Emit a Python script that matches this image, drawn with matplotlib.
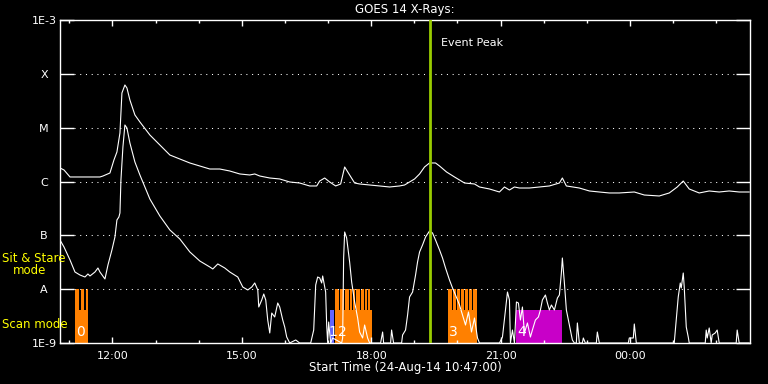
"""
GOES 14 X-ray flux plot with observing mode bars.
"""

import matplotlib
matplotlib.use('Agg')
import matplotlib.pyplot as plt
from matplotlib.ticker import FixedLocator, NullLocator
import numpy as np

START = 10 + 47 / 60.0  # 10:47, start of the plot
SPAN = 16.0             # hours shown

# long channel (1-8 A): hours after start, log10 flux
long_t = [0, 0.093, 0.232, 0.463, 0.926, 0.996, 1.158, 1.251, 1.320, 1.390,
          1.436, 1.505, 1.552, 1.621, 1.737, 1.853, 2.084, 2.316, 2.548, 2.779,
          3.011, 3.242, 3.474, 3.706, 3.937, 4.169, 4.400, 4.516, 4.632, 4.864,
          5.095, 5.327, 5.558, 5.790, 5.952, 6.022, 6.137, 6.253, 6.392, 6.508,
          6.601, 6.716, 6.832, 6.948, 7.180, 7.411, 7.643, 7.874, 7.990, 8.106,
          8.222, 8.338, 8.453, 8.569, 8.708, 8.801, 8.963, 9.148, 9.380, 9.611,
          9.727, 9.959, 10.190, 10.306, 10.422, 10.538, 10.654, 10.885, 11.117,
          11.348, 11.580, 11.649, 11.742, 12.043, 12.275, 12.506, 12.738, 12.970,
          13.317, 13.549, 13.896, 14.128, 14.313, 14.452, 14.591, 14.822, 15.054,
          15.286, 15.517, 15.749, 15.980]
long_logf = [-5.749, -5.786, -5.916, -5.916, -5.916, -5.898, -5.842, -5.600,
             -5.452, -5.099, -4.356, -4.207, -4.263, -4.486, -4.764, -4.894,
             -5.136, -5.322, -5.508, -5.582, -5.656, -5.712, -5.768, -5.768,
             -5.805, -5.860, -5.879, -5.860, -5.898, -5.935, -5.953, -6.009,
             -6.028, -6.083, -6.083, -5.991, -5.935, -6.009, -6.083, -6.046,
             -5.730, -5.879, -6.028, -6.046, -6.065, -6.083, -6.102, -6.083,
             -6.065, -6.009, -5.953, -5.860, -5.730, -5.656, -5.656, -5.712,
             -5.823, -5.916, -6.028, -6.046, -6.102, -6.139, -6.195, -6.102,
             -6.158, -6.102, -6.121, -6.121, -6.102, -6.083, -6.028, -5.935,
             -6.083, -6.121, -6.176, -6.195, -6.213, -6.213, -6.195, -6.251,
             -6.269, -6.213, -6.102, -5.991, -6.139, -6.213, -6.176, -6.195,
             -6.176, -6.195, -6.195]

# short channel (0.5-4 A)
short_t = [0, 0.093, 0.232, 0.347, 0.463, 0.579, 0.648, 0.695, 0.811, 0.880,
           0.926, 1.042, 1.112, 1.204, 1.274, 1.320, 1.366, 1.390, 1.413, 1.459,
           1.505, 1.552, 1.621, 1.737, 1.853, 2.084, 2.316, 2.548, 2.779, 3.011,
           3.242, 3.474, 3.543, 3.659, 3.821, 3.937, 4.122, 4.238, 4.354, 4.447,
           4.516, 4.586, 4.609, 4.678, 4.725, 4.771, 4.817, 4.864, 4.910, 4.979,
           5.049, 5.095, 5.165, 5.211, 5.257, 5.327, 5.466, 5.558, 5.813, 5.883,
           5.929, 5.975, 6.022, 6.068, 6.091, 6.160, 6.184, 6.207, 6.230, 6.276,
           6.323, 6.531, 6.554, 6.577, 6.601, 6.647, 6.716, 6.763, 6.832, 6.902,
           6.948, 7.017, 7.064, 7.133, 7.180, 7.434, 7.481, 7.504, 7.666, 7.689,
           7.735, 7.921, 7.944, 8.013, 8.060, 8.106, 8.176, 8.245, 8.291, 8.338,
           8.407, 8.477, 8.569, 8.639, 8.708, 8.801, 8.870, 8.940, 9.032, 9.102,
           9.171, 9.264, 9.333, 9.403, 9.472, 9.542, 9.611, 9.681, 9.727, 10.190,
           10.260, 10.330, 10.376, 10.422, 10.445, 10.492, 10.538, 10.584, 10.630,
           10.677, 10.723, 10.769, 10.839, 10.908, 10.954, 11.024, 11.093, 11.140,
           11.186, 11.256, 11.302, 11.348, 11.395, 11.464, 11.534, 11.580, 11.626,
           11.649, 11.696, 11.742, 11.788, 11.834, 11.881, 11.927, 11.973, 11.997,
           12.043, 12.112, 12.135, 12.182, 12.437, 12.460, 12.506, 13.178, 13.201,
           13.294, 13.317, 13.364, 14.243, 14.290, 14.336, 14.383, 14.406, 14.452,
           14.475, 14.522, 14.568, 14.591, 14.962, 14.985, 15.008, 15.054, 15.100,
           15.124, 15.193, 15.239, 15.286, 15.680, 15.703, 15.749, 15.980]
short_logf = [-7.087, -7.217, -7.458, -7.681, -7.737, -7.774, -7.718, -7.755,
              -7.681, -7.607, -7.681, -7.811, -7.551, -7.272, -7.031, -6.715,
              -6.659, -6.585, -5.972, -5.359, -4.950, -5.006, -5.285, -5.638,
              -5.879, -6.325, -6.641, -6.901, -7.068, -7.309, -7.477, -7.588,
              -7.625, -7.532, -7.607, -7.681, -7.774, -7.960, -8.015, -7.960,
              -7.885, -8.015, -8.331, -8.201, -8.090, -8.201, -8.573, -8.814,
              -8.443, -8.517, -8.257, -8.331, -8.573, -8.703, -8.889, -9.0,
              -8.944, -9.0, -9.0, -8.759, -7.923, -7.774, -7.792, -7.885,
              -7.755, -8.053, -8.666, -9.0, -8.610, -9.0, -8.907, -9.0,
              -8.907, -7.421, -6.938, -7.049, -7.495, -7.867, -8.238, -8.536,
              -8.796, -8.907, -8.666, -8.907, -9.0, -9.0, -8.796, -9.0,
              -9.0, -8.759, -9.0, -9.0, -8.851, -8.759, -8.480, -8.145,
              -8.053, -7.737, -7.495, -7.309, -7.179, -7.031, -6.919, -6.957,
              -7.087, -7.272, -7.421, -7.607, -7.830, -7.978, -8.108, -8.294,
              -8.480, -8.666, -8.424, -8.796, -8.536, -8.907, -9.0, -9.0,
              -8.889, -8.387, -8.053, -8.201, -9.0, -8.759, -9.0, -8.238,
              -8.257, -8.573, -8.331, -8.814, -8.628, -8.889, -8.759, -8.573,
              -8.517, -8.387, -8.201, -8.108, -8.257, -8.387, -8.294, -8.387,
              -8.164, -8.108, -7.700, -7.421, -7.885, -8.387, -8.573, -8.759,
              -8.944, -9.0, -9.0, -8.628, -9.0, -9.0, -8.907, -9.0,
              -9.0, -8.796, -9.0, -9.0, -8.907, -8.907, -8.647, -9.0,
              -9.0, -8.573, -8.145, -7.885, -7.978, -7.700, -7.960, -8.703,
              -8.889, -9.0, -9.0, -8.759, -8.907, -8.721, -9.0, -8.851,
              -8.814, -8.759, -9.0, -9.0, -8.759, -9.0, -9.0]

# observing modes: (start, end) in hours after start
scan_orange = [(0.347, 0.655), (6.369, 7.226), (8.986, 9.681)]
scan_blue = [(6.253, 6.346)]
scan_magenta = [(10.584, 11.649)]
stare_orange = [(0.347, 0.452), (0.486, 0.563), (0.602, 0.655),
                (6.369, 6.462), (6.489, 6.582), (6.605, 6.698), (6.721, 6.774),
                (6.797, 6.851), (6.874, 6.967), (6.990, 7.045), (7.068, 7.122),
                (7.145, 7.180),
                (8.986, 9.083), (9.106, 9.176), (9.199, 9.276), (9.299, 9.368),
                (9.391, 9.468), (9.491, 9.560), (9.583, 9.681)]
block_labels = ['0', '1', '2', '3', '4']
block_label_t = [0.37, 6.23, 6.45, 9.01, 10.60]

scan_level = 10 ** -8.39
stare_level = 1e-8
floor = 1e-9
event_peak_t = 8.59

levels = [1e-9, 1e-8, 1e-7, 1e-6, 1e-5, 1e-4, 1e-3]
level_names = ['1E-9', 'A', 'B', 'C', 'M', 'X', '1E-3']

ORANGE = '#ff8000'
BLUE = '#6464ff'
MAGENTA = '#c800c8'
PEAK = '#99cc00'


def draw_blocks(ax, spans, top, color):
    for s, e in spans:
        ax.bar(START + s, top - floor, width=e - s, bottom=floor,
               align='edge', color=color, linewidth=0, antialiased=False,
               zorder=1)


fig = plt.figure(figsize=(7.68, 3.84), dpi=100, facecolor='black')
ax = fig.add_axes([60 / 768, 41 / 384, 690 / 768, 323 / 384])
ax.set_facecolor('black')
ax.set_yscale('log')
ax.set_xlim(START, START + SPAN)
ax.set_ylim(1e-9, 1e-3)

draw_blocks(ax, stare_orange, stare_level, ORANGE)
draw_blocks(ax, scan_orange, scan_level, ORANGE)
draw_blocks(ax, scan_blue, scan_level, BLUE)
draw_blocks(ax, scan_magenta, scan_level, MAGENTA)

for lab, t in zip(block_labels, block_label_t):
    ax.text(START + t, 10 ** -8.93, lab, color='white', fontsize=10,
            ha='left', va='bottom', zorder=2)

# dotted level lines
ax.hlines(levels[1:-1], 14 / 690, 676 / 690, transform=ax.get_yaxis_transform(),
          colors='white', linewidth=0.75, linestyles=(0, (1, 4.5)), zorder=1.5)

ax.plot(START + np.array(long_t), 10 ** np.array(long_logf),
        color='white', lw=0.8, zorder=3)
ax.plot(START + np.array(short_t), 10 ** np.array(short_logf),
        color='white', lw=0.8, zorder=3)

ax.axvline(START + event_peak_t, color=PEAK, lw=2, zorder=4)
ax.text(START + event_peak_t + 0.25, 10 ** -3.42, 'Event Peak', color='white',
        fontsize=8, ha='left', va='center')

for sp in ax.spines.values():
    sp.set_color('white')
    sp.set_linewidth(1)

ax.yaxis.set_major_locator(FixedLocator(levels))
ax.yaxis.set_minor_locator(NullLocator())
ax.set_yticklabels(level_names, ha='center')
ax.tick_params(axis='y', which='major', direction='in', left=True, right=True,
               length=10, width=1, color='white', labelcolor='white',
               labelsize=8, pad=11.5)

ax.xaxis.set_major_locator(FixedLocator([12, 15, 18, 21, 24]))
ax.xaxis.set_minor_locator(FixedLocator(np.arange(11, 27)))
ax.set_xticklabels(['12:00', '15:00', '18:00', '21:00', '00:00'])
ax.tick_params(axis='x', which='both', direction='in', top=True, bottom=True,
               color='white', labelcolor='white', labelsize=8, pad=6)
ax.tick_params(axis='x', which='major', length=4.5, width=1)
ax.tick_params(axis='x', which='minor', length=2.2, width=1)

fig.text(405 / 768, 1 - 10 / 384, 'GOES 14 X-Rays:', color='white',
         fontsize=8.5, ha='center', va='center')
fig.text(405 / 768, 1 - 368 / 384, 'Start Time (24-Aug-14 10:47:00)',
         color='white', fontsize=8.5, ha='center', va='center')
fig.text(2 / 768, 1 - 259 / 384, 'Sit & Stare', color='yellow', fontsize=8.5,
         ha='left', va='center')
fig.text(13 / 768, 1 - 271 / 384, 'mode', color='yellow', fontsize=8.5,
         ha='left', va='center')
fig.text(2 / 768, 1 - 324 / 384, 'Scan mode', color='yellow', fontsize=8.5,
         ha='left', va='center')

fig.savefig('out.png', dpi=100, facecolor='black')
